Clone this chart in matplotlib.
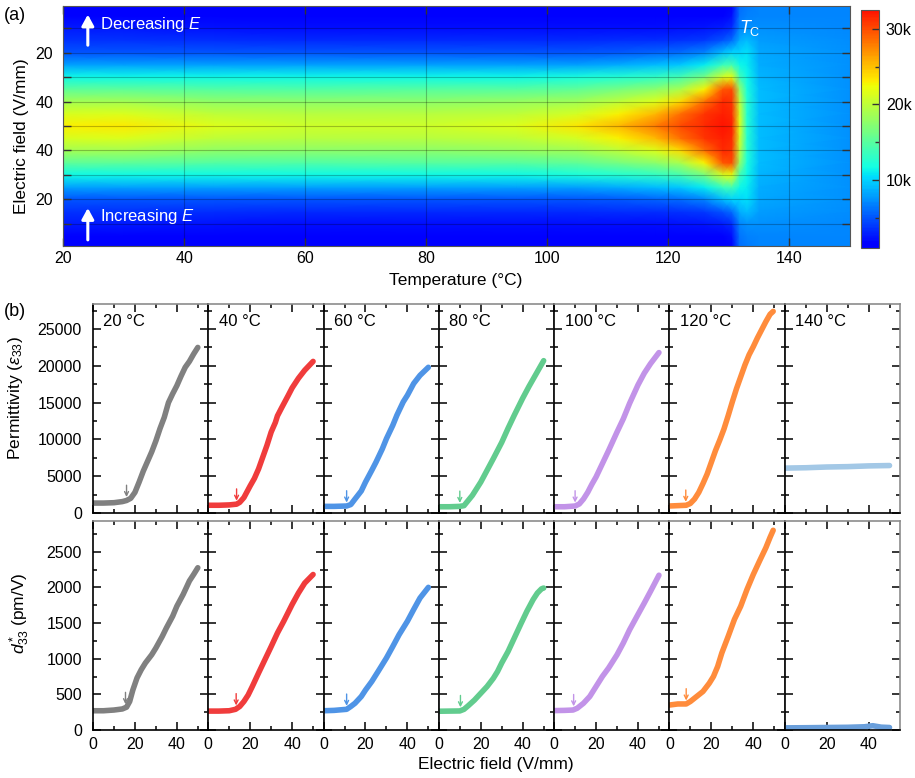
# =========================================================
# FIELD-INDUCED PERMITTIVITY / d33* FIGURE
#
# python plot.py  -> out.png
# =========================================================

import numpy as np
import matplotlib
matplotlib.use("Agg")
import matplotlib.pyplot as plt
from matplotlib.colors import LinearSegmentedColormap
from matplotlib.ticker import FixedLocator, MultipleLocator

plt.rcParams["font.family"] = ["Liberation Sans", "DejaVu Sans"]
plt.rcParams["mathtext.fontset"] = "custom"
plt.rcParams["mathtext.rm"] = "Liberation Sans"
plt.rcParams["mathtext.it"] = "Liberation Sans:italic"
plt.rcParams["mathtext.bf"] = "Liberation Sans:bold"

# =========================================================
# DATA (a): permittivity map, k units, field sweep up then down
# =========================================================
map_temps = [20, 30, 45, 60, 80, 95, 105, 112, 118, 122, 126, 129, 130.5, 131.8, 133, 135, 150]
map_fields = [0, 5, 10, 15, 20, 25, 30, 35, 40, 45, 50]
map_eps_k = [
    [1.4, 1.6, 2.6, 3.6, 5.0, 8.0, 11.5, 15.2, 18.6, 21.2, 23.0],   # 20
    [1.4, 1.6, 2.6, 3.6, 5.0, 8.0, 11.5, 15.2, 18.6, 21.4, 23.3],   # 30
    [1.3, 1.5, 2.4, 3.4, 5.0, 8.0, 11.5, 14.8, 17.8, 20.0, 21.6],   # 45
    [1.2, 1.4, 2.3, 3.3, 5.0, 8.0, 11.5, 14.6, 17.5, 19.6, 20.7],   # 60
    [1.2, 1.4, 2.3, 3.3, 5.0, 8.0, 11.5, 15.0, 17.6, 19.6, 20.7],   # 80
    [1.2, 1.4, 2.3, 3.3, 5.0, 8.0, 11.5, 15.0, 18.0, 20.0, 21.5],   # 95
    [1.2, 1.4, 2.3, 3.3, 5.0, 8.0, 12.0, 15.5, 18.5, 21.0, 23.5],   # 105
    [1.2, 1.4, 2.3, 3.4, 5.3, 8.5, 12.5, 16.5, 20.0, 23.0, 25.5],   # 112
    [1.2, 1.4, 2.3, 3.5, 5.6, 9.0, 13.0, 17.5, 21.5, 25.5, 28.0],   # 118
    [1.2, 1.4, 2.4, 3.7, 6.0, 9.5, 14.0, 19.0, 24.0, 28.5, 30.0],   # 122
    [1.2, 1.4, 2.5, 4.0, 7.0, 11.0, 16.5, 23.0, 28.5, 31.0, 31.5],  # 126
    [1.3, 1.6, 2.8, 5.0, 9.0, 13.5, 21.0, 29.5, 31.5, 32.0, 32.5],  # 129
    [1.8, 2.2, 3.5, 6.0, 10.0, 14.0, 22.0, 30.0, 31.0, 31.5, 32.0], # 130.5
    [6.0, 6.3, 7.0, 8.5, 10.0, 11.5, 14.0, 18.0, 20.0, 21.0, 21.5], # 131.8
    [6.5, 6.8, 7.5, 9.0, 10.5, 11.0, 11.5, 12.0, 12.5, 12.5, 12.5], # 133
    [7.0, 7.0, 7.3, 7.8, 8.3, 8.6, 8.8, 9.0, 9.0, 9.0, 9.0],        # 135
    [7.0, 7.0, 7.1, 7.2, 7.3, 7.3, 7.3, 7.3, 7.3, 7.3, 7.3],        # 150
]

# =========================================================
# DATA (b): field sweeps at fixed temperature
# =========================================================
panel_temps = ["20", "40", "60", "80", "100", "120", "140"]
eps_colors = ["#808080", "#f03c3c", "#4f94e6", "#62cc8e", "#c293e8", "#ff8c3c", "#a3c8e6"]
d33_colors = ["#808080", "#f03c3c", "#4f94e6", "#62cc8e", "#c293e8", "#ff8c3c", "#6a9fdb"]

eps_E = [
    [0, 5, 10, 14, 16, 18, 20, 22, 24, 26, 28, 30, 32, 34, 36, 38, 40, 42, 44, 46, 48, 50],
    [0, 5, 10, 13.5, 15, 17, 20, 22, 24, 26, 28, 30, 32, 33, 35, 38, 40, 43, 46, 48, 50],
    [0, 5, 11, 13, 15, 18, 20, 23, 25, 28, 30, 33, 35, 38, 40, 43, 46, 50],
    [0, 5, 10, 12, 14, 16, 18, 20, 23, 26, 30, 33, 36, 40, 43, 46, 50],
    [0, 5, 10, 12, 14, 16, 18, 20, 23, 26, 30, 33, 36, 40, 43, 46, 50],
    [0, 4, 8, 10, 12, 14, 16, 18, 20, 22, 24, 26, 28, 30, 32, 34, 36, 38, 40, 42, 44, 46, 48, 49.5],
    [0, 10, 20, 30, 40, 50],
]
eps_val = [
    [1350, 1350, 1400, 1550, 1700, 2000, 2800, 4200, 5700, 7000, 8300, 9800, 11500, 13000,
     15000, 16200, 17300, 18600, 19800, 20600, 21600, 22500],
    [1050, 1050, 1100, 1200, 1450, 2100, 3700, 4700, 6000, 7600, 9200, 11000, 12300, 13200,
     14300, 15900, 17000, 18300, 19400, 20000, 20600],
    [900, 900, 950, 1150, 1900, 3000, 4200, 5800, 6900, 8700, 10100, 11900, 13300, 15100,
     16000, 17600, 18700, 19800],
    [850, 850, 900, 1000, 1700, 2400, 3300, 4200, 5800, 7400, 9600, 11500, 13300, 15600,
     17200, 18700, 20700],
    [850, 850, 950, 1230, 1900, 2800, 3900, 4900, 6700, 8500, 11000, 12800, 14900, 17400,
     19000, 20300, 21800],
    [950, 1000, 1050, 1300, 1900, 2800, 4000, 5300, 6900, 8500, 9900, 11400, 13200, 15100,
     16900, 18500, 20100, 21500, 22600, 23800, 24900, 26000, 27000, 27400],
    [6100, 6150, 6250, 6300, 6400, 6450],
]

d33_E = [
    [0, 5, 10, 14, 16, 17.5, 19, 21, 23, 25, 28, 30, 33, 35, 38, 40, 43, 46, 48, 50],
    [0, 5, 10, 13, 15, 17, 19, 21, 24, 27, 30, 33, 36, 40, 43, 46, 50],
    [0, 5, 11, 13, 15, 18, 20, 23, 26, 30, 33, 36, 40, 43, 46, 50],
    [0, 5, 10, 12, 14, 17, 20, 23, 26, 28, 30, 33, 36, 39, 42, 45, 47, 49, 50],
    [0, 5, 9, 11, 14, 17, 20, 23, 26, 30, 33, 36, 40, 43, 46, 50],
    [0, 4, 8, 10, 13, 16, 19, 21, 23, 25, 28, 31, 34, 37, 40, 43, 46, 48, 49.5],
    [0, 10, 20, 30, 38, 42, 46, 50],
]
d33_val = [
    [270, 270, 280, 295, 320, 400, 560, 730, 845, 940, 1055, 1150, 1310, 1430, 1595, 1735,
     1900, 2090, 2180, 2275],
    [265, 265, 270, 290, 330, 400, 490, 610, 800, 985, 1170, 1360, 1525, 1760, 1920, 2060, 2180],
    [270, 275, 290, 330, 375, 470, 560, 680, 820, 1010, 1170, 1335, 1525, 1690, 1850, 2000],
    [263, 265, 267, 290, 340, 420, 515, 610, 725, 820, 940, 1100, 1290, 1480, 1665, 1830,
     1920, 1980, 1990],
    [272, 275, 280, 305, 375, 470, 610, 750, 870, 1055, 1220, 1405, 1620, 1780, 1945, 2170],
    [350, 365, 365, 400, 470, 540, 655, 750, 890, 1080, 1310, 1550, 1735, 1970, 2180, 2370,
     2555, 2700, 2800],
    [30, 32, 35, 38, 45, 60, 40, 35],
]

# onset field marked by the small arrows (None = no arrow)
eps_onset = [16, 13.5, 11, 10, 10, 7.8, None]
d33_onset = [15.5, 13.3, 11, 10.3, 9.3, 8, None]

# =========================================================
# FIGURE
# =========================================================
W, H = 915, 778
fig = plt.figure(figsize=(W / 100, H / 100), dpi=100)


def box(x0, y0, x1, y1):
    # pixel box (top-left origin) -> figure fraction rect
    return [x0 / W, 1 - y1 / H, (x1 - x0) / W, (y1 - y0) / H]


# ---------------- (a) heatmap ----------------
cmap = LinearSegmentedColormap.from_list("jet_trim", plt.cm.jet(np.linspace(0.11, 0.89, 256)))

fields = np.array(map_fields, dtype=float)
s_nodes = np.concatenate([fields, 100 - fields[::-1][1:]])
Z = np.array(map_eps_k) * 1000
Z = np.hstack([Z, Z[:, ::-1][:, 1:]])
T, S = np.meshgrid(map_temps, s_nodes, indexing="ij")

ax = fig.add_axes(box(63, 6, 850, 246))
mesh = ax.pcolormesh(T, S, Z, shading="gouraud", cmap=cmap, vmin=1000, vmax=32500,
                     rasterized=True)
ax.set_xlim(20, 150)
ax.set_ylim(1, 99)
ax.set_xticks(range(20, 141, 20))
ax.set_yticks([20, 40, 60, 80])
ax.set_yticklabels(["20", "40", "40", "20"])
ax.yaxis.set_minor_locator(FixedLocator([10, 30, 50, 70, 90]))
ax.tick_params(which="both", direction="in", top=True, right=True, length=6, width=1,
               color="#333333", labelsize=11.5)
ax.tick_params(axis="y", pad=7)
ax.grid(which="both", color="k", alpha=0.25, lw=0.8)
for sp in ax.spines.values():
    sp.set_color("#555555")

arrow_kw = dict(arrowstyle="-|>,head_length=0.55,head_width=0.3", color="white", lw=2.2,
                mutation_scale=12, shrinkA=0, shrinkB=0)
ax.annotate("", xy=(24.1, 95.5), xytext=(24.1, 83), arrowprops=arrow_kw)
ax.annotate("", xy=(24.1, 16.5), xytext=(24.1, 3.5), arrowprops=arrow_kw)
ax.text(26.1, 91.3, "Decreasing $E$", color="white", fontsize=12, va="center")
ax.text(26.1, 12.9, "Increasing $E$", color="white", fontsize=12, va="center")
ax.text(133.4, 90, r"$T_\mathrm{C}$", color="white", fontsize=13, va="center", ha="center")

cax = fig.add_axes(box(861, 10, 879, 248))
cb = fig.colorbar(mesh, cax=cax)
cb.set_ticks([10000, 20000, 30000])
cb.set_ticklabels(["10k", "20k", "30k"])
cax.yaxis.set_minor_locator(FixedLocator([5000, 15000, 25000]))
cax.tick_params(which="major", direction="in", length=5, width=1, color="#333333",
                labelsize=11.5, pad=5)
cax.tick_params(which="minor", direction="in", length=3, width=1, color="#333333")
cb.outline.set_edgecolor("#555555")

fig.text(22 / W, 1 - 136 / H, "Electric field (V/mm)", rotation=90, fontsize=12.5,
         ha="center", va="center")
fig.text(456 / W, 1 - 281 / H, "Temperature (°C)", fontsize=12.5, ha="center", va="center")
fig.text(4 / W, 1 - 15 / H, "(a)", fontsize=13, va="center")

# ---------------- (b) field sweeps ----------------
col_w = (900 - 93) / 7
rows = [(304, 513, eps_E, eps_val, eps_colors, eps_onset, 28400, 5000),
        (521, 730, d33_E, d33_val, d33_colors, d33_onset, 2930, 500)]

for r, (y0, y1, Es, vals, cols, onsets, ytop, ystep) in enumerate(rows):
    for i in range(7):
        x0 = 93 + i * col_w
        a = fig.add_axes(box(x0, y0, x0 + col_w, y1))
        a.plot(Es[i], vals[i], color=cols[i], lw=4, solid_capstyle="round",
               solid_joinstyle="round")
        if onsets[i] is not None:
            yv = np.interp(onsets[i], Es[i], vals[i])
            a.annotate("", xy=(onsets[i], yv), xytext=(0, 11), textcoords="offset points",
                       arrowprops=dict(arrowstyle="->", color=cols[i], lw=1,
                                       mutation_scale=7, shrinkA=0, shrinkB=2.5))
        a.set_xlim(0, 55)
        a.set_ylim(0, ytop)
        a.xaxis.set_major_locator(FixedLocator([0, 20, 40]))
        a.xaxis.set_minor_locator(FixedLocator([10, 30, 50]))
        a.yaxis.set_major_locator(MultipleLocator(ystep))
        a.yaxis.set_minor_locator(MultipleLocator(ystep / 2))
        a.tick_params(which="major", direction="in", top=True, right=True, length=6,
                      width=1.1, labelsize=11.5)
        a.tick_params(which="minor", direction="in", top=True, right=True, length=3,
                      width=1.1)
        a.tick_params(axis="y", pad=8)
        a.tick_params(axis="x", pad=5)
        a.tick_params(labelleft=(i == 0), labelbottom=(r == 1))
        a.spines["top"].set_color("#8c8c8c")
        a.spines["right"].set_color("#8c8c8c")
        for sp in a.spines.values():
            sp.set_linewidth(1.2)
        if r == 0:
            a.text(0.09, 0.915, panel_temps[i] + " °C", transform=a.transAxes, fontsize=12,
                   va="center")

fig.text(16 / W, 1 - 398 / H, r"Permittivity ($\varepsilon_{33}$)", rotation=90,
         fontsize=12.5, ha="center", va="center")
fig.text(20 / W, 1 - 613 / H, r"$d^*_{33}$ (pm/V)", rotation=90, fontsize=12.5,
         ha="center", va="center")
fig.text(496 / W, 1 - 765 / H, "Electric field (V/mm)", fontsize=12.5, ha="center",
         va="center")
fig.text(4 / W, 1 - 312 / H, "(b)", fontsize=13, va="center")

fig.savefig("out.png", dpi=100)
